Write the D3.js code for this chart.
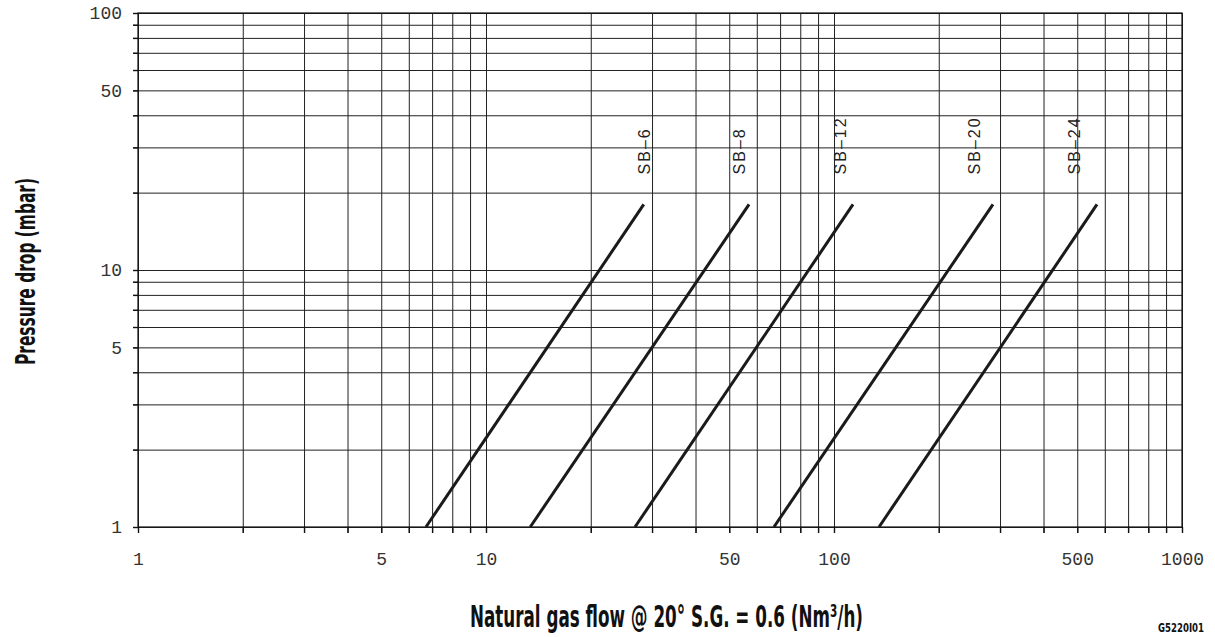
<!DOCTYPE html>
<html>
<head>
<meta charset="utf-8">
<script src="https://cdn.jsdelivr.net/npm/d3@7"></script>
<style>
  body { margin: 0; background: #fff; }
  svg { display: block; }
</style>
</head>
<body>
<div id="chart"></div>
<script>
// sizes
const series = ['SB\u20136', 'SB\u20138', 'SB\u201312', 'SB\u201320', 'SB\u201324'];
const flowLow = [6.72, 13.4, 26.8, 67.2, 134.7];     // flow at 1 mbar
const flowHigh = [28.4, 57.0, 113.4, 286.3, 569.8];  // flow at top of line
const pressureEnds = [1, 18];
const labelFlow = [29.6, 55.5, 108.3, 262.7, 509];
const xTicks = [1, 5, 10, 50, 100, 500, 1000];
const yTicks = [1, 5, 10, 50, 100];

const width = 1215;
const height = 637;
const margin = { top: 13, right: 33, bottom: 110, left: 138 };

const svg = d3.select('#chart')
  .append('svg')
  .attr('width', width)
  .attr('height', height);

const x = d3.scaleLog()
  .domain([1, 1000])
  .range([margin.left, width - margin.right]);

const y = d3.scaleLog()
  .domain([1, 100])
  .range([height - margin.bottom, margin.top]);

const gridColor = '#222';
const tickFont = '"Liberation Mono", "DejaVu Sans Mono", monospace';

// horizontal grid + y labels
svg.append('g')
  .attr('transform', `translate(${margin.left - 5},0)`)
  .call(d3.axisLeft(y)
    .tickValues(y.ticks())
    .tickSize(-(width - margin.right - margin.left + 5))
    .tickPadding(11)
    .tickFormat(d => yTicks.includes(d) ? d : ''))
  .call(g => g.select('.domain').remove())
  .call(g => g.selectAll('line').attr('stroke', gridColor))
  .call(g => g.selectAll('text')
    .attr('font-family', tickFont)
    .attr('font-size', 18)
    .attr('fill', '#333'));

// vertical grid + x labels
svg.append('g')
  .attr('transform', `translate(0,${height - margin.bottom + 6})`)
  .call(d3.axisBottom(x)
    .tickValues(x.ticks())
    .tickSize(-(height - margin.bottom - margin.top + 6))
    .tickPadding(19)
    .tickFormat(d => xTicks.includes(d) ? d : ''))
  .call(g => g.select('.domain').remove())
  .call(g => g.selectAll('line').attr('stroke', gridColor))
  .call(g => g.selectAll('text')
    .attr('font-family', tickFont)
    .attr('font-size', 18)
    .attr('fill', '#333'));

// short tick marks crossing the axes
svg.append('g')
  .attr('transform', `translate(${margin.left},0)`)
  .call(d3.axisLeft(y).tickValues(y.ticks()).tickSize(5).tickFormat(''))
  .call(g => g.select('.domain').remove())
  .call(g => g.selectAll('line').attr('stroke', '#111').attr('stroke-width', 1.4));

svg.append('g')
  .attr('transform', `translate(0,${height - margin.bottom})`)
  .call(d3.axisBottom(x).tickValues(x.ticks()).tickSize(6).tickFormat(''))
  .call(g => g.select('.domain').remove())
  .call(g => g.selectAll('line').attr('stroke', '#111').attr('stroke-width', 1.4));

// frame
svg.append('rect')
  .attr('x', margin.left)
  .attr('y', margin.top)
  .attr('width', width - margin.right - margin.left)
  .attr('height', height - margin.bottom - margin.top)
  .attr('fill', 'none')
  .attr('stroke', '#111')
  .attr('stroke-width', 1.2);

// pressure drop lines
const lineData = series.map((s, i) => ({
  name: s,
  pts: [[flowLow[i], pressureEnds[0]], [flowHigh[i], pressureEnds[1]]]
}));

const line = d3.line()
  .x(d => x(d[0]))
  .y(d => y(d[1]));

svg.append('g')
  .selectAll('path')
  .data(lineData)
  .join('path')
    .attr('d', d => line(d.pts))
    .attr('fill', 'none')
    .attr('stroke', '#1a1a1a')
    .attr('stroke-width', 3);

// series labels, rotated
svg.append('g')
  .selectAll('text')
  .data(series)
  .join('text')
    .attr('transform', (d, i) => `translate(${x(labelFlow[i])},${y(pressureEnds[1]) - 30}) rotate(-90)`)
    .attr('font-family', '"Liberation Sans", Arial, sans-serif')
    .attr('font-size', 16)
    .attr('letter-spacing', 2)
    .attr('fill', '#222')
    .text(d => d);

// axis titles
const titleFont = '"Liberation Sans Narrow", "DejaVu Sans Condensed", "Liberation Sans", sans-serif';

svg.append('text')
  .attr('x', 470)
  .attr('y', 627)
  .attr('font-family', titleFont)
  .attr('font-weight', 'bold')
  .attr('font-size', 31)
  .attr('textLength', 393)
  .attr('lengthAdjust', 'spacingAndGlyphs')
  .attr('fill', '#111')
  .text('Natural gas flow @ 20\u00b0 S.G. = 0.6 (Nm\u00b3/h)');

svg.append('text')
  .attr('transform', 'translate(35,365) rotate(-90)')
  .attr('font-family', titleFont)
  .attr('font-weight', 'bold')
  .attr('font-size', 27)
  .attr('textLength', 187)
  .attr('lengthAdjust', 'spacingAndGlyphs')
  .attr('fill', '#111')
  .text('Pressure drop (mbar)');

svg.append('text')
  .attr('x', 1158)
  .attr('y', 632)
  .attr('font-family', titleFont)
  .attr('font-weight', 'bold')
  .attr('font-size', 12)
  .attr('textLength', 46)
  .attr('lengthAdjust', 'spacingAndGlyphs')
  .attr('fill', '#111')
  .text('G5220I01');
</script>
</body>
</html>
